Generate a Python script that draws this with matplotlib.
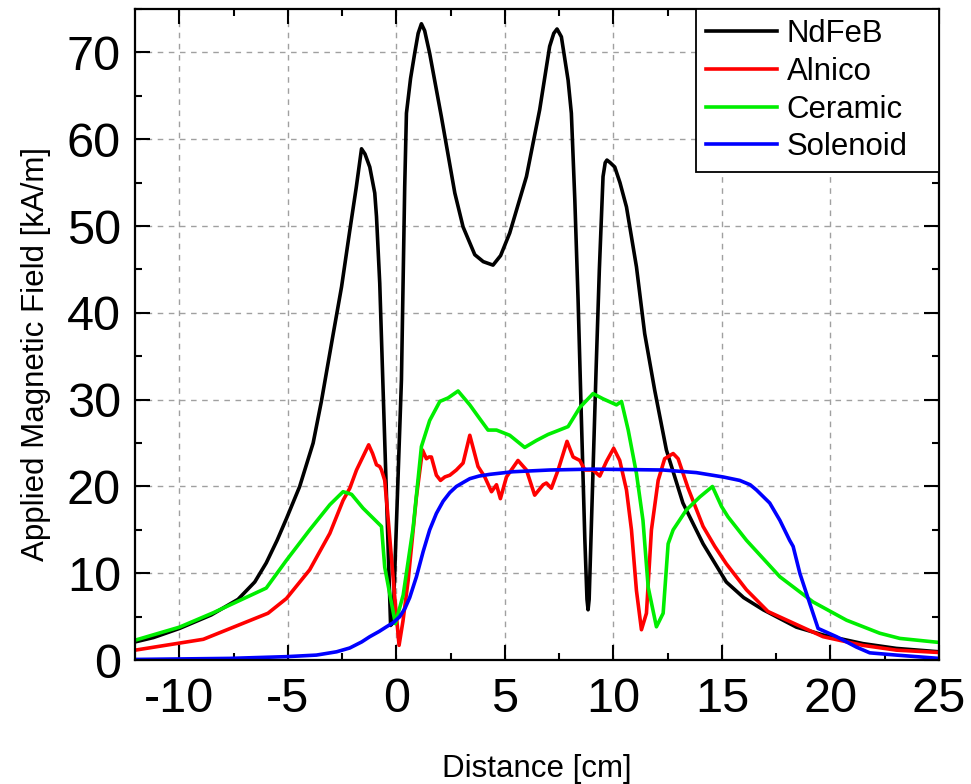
import matplotlib
matplotlib.use("Agg")
import matplotlib.pyplot as plt
from matplotlib.ticker import MultipleLocator

plt.rcParams['font.family'] = ['Liberation Sans', 'DejaVu Sans']
plt.rcParams['axes.unicode_minus'] = False

# NdFeB
x_ndfeb = [-12.04, -11.2, -10.0, -8.54, -7.3, -6.53, -6.0, -5.5, -5.07, -4.46, -3.84, -3.46,
           -2.92, -2.53, -2.15, -1.85, -1.61, -1.45, -1.23, -1.0, -0.92, -0.77, -0.62, -0.27,
           -0.16, 0.23, 0.38, 0.46, 0.65, 0.84, 1.0, 1.15, 1.3, 1.53, 2.07, 2.69, 3.07, 3.61,
           4.0, 4.45, 4.8, 5.22, 5.99, 6.6, 7.06, 7.25, 7.4, 7.6, 7.91, 8.06, 8.22, 8.37,
           8.52, 8.68, 8.78, 8.83, 8.88, 9.0, 9.2, 9.35, 9.52, 9.62, 9.7, 9.85, 10.06, 10.3,
           10.6, 11.06, 11.44, 11.9, 12.44, 13.2, 14.13, 15.2, 16.0, 16.9, 18.43, 19.66,
           21.5, 23.04, 25.0]
y_ndfeb = [2.1, 2.6, 3.65, 5.2, 7.0, 9.0, 11.2, 13.8, 16.3, 20.0, 25.0, 29.8,
           37.5, 43.0, 49.5, 54.5, 58.9, 58.3, 56.8, 53.8, 51.1, 43.4, 31.5, 4.0,
           4.3, 32.3, 54.5, 63.0, 67.0, 69.9, 72.2, 73.3, 72.5, 69.9, 62.6, 53.8, 49.9, 46.7,
           45.9, 45.5, 46.6, 49.2, 55.7, 63.4, 70.7, 72.2, 72.7, 71.8, 66.8, 63.0, 53.0, 41.5,
           28.0, 14.0, 7.0, 5.8, 7.0, 17.0, 33.5, 45.0, 55.7, 57.3, 57.6, 57.3, 56.8, 55.0,
           52.2, 45.3, 37.6, 31.1, 24.2, 18.1, 13.4, 9.0, 7.2, 5.8, 3.8, 2.9,
           1.9, 1.35, 0.96]

# Alnico
x_alnico = [-12.04, -8.9, -5.92, -5.07, -4.0, -3.07, -2.46, -2.15, -1.84, -1.28, -1.1, -0.92,
            -0.77, -0.69, -0.54, -0.39, -0.08, 0.12, 0.3, 0.54, 0.92, 1.2, 1.38, 1.5, 1.61,
            1.84, 2.03, 2.23, 2.46, 2.76, 3.07, 3.38, 3.76, 4.07, 4.38, 4.61, 4.79, 5.07, 5.6,
            5.99, 6.37, 6.76, 6.91, 7.14, 7.45, 7.86, 8.14, 8.45, 8.68, 9.06, 9.37, 9.68,
            10.01, 10.29, 10.6, 10.83, 11.06, 11.29, 11.52, 11.75, 12.06, 12.36, 12.75, 12.98,
            13.44, 14.13, 14.67, 15.2, 16.13, 17.12, 17.82, 19.66, 21.5, 23.04, 25.0]
y_alnico = [1.15, 2.4, 5.4, 7.1, 10.4, 14.6, 18.4, 19.8, 21.9, 24.8, 23.8, 22.5,
            22.3, 21.9, 20.7, 16.5, 7.3, 1.7, 4.5, 9.2, 18.8, 24.2, 23.2, 23.4, 23.4,
            21.3, 20.7, 21.1, 21.3, 21.9, 22.7, 25.9, 22.3, 21.1, 19.4, 20.2, 18.6, 21.1, 23.0,
            21.9, 19.0, 20.2, 20.4, 19.8, 21.9, 25.2, 23.4, 23.0, 21.9, 21.9, 21.2, 22.9,
            24.4, 23.0, 19.6, 15.0, 8.0, 3.5, 5.4, 15.0, 20.7, 23.2, 23.8, 23.2,
            19.8, 15.4, 13.1, 11.1, 8.1, 5.6, 4.8, 2.7, 1.7, 1.15, 0.88]

# Ceramic
x_ceramic = [-12.04, -10.0, -8.45, -6.0, -5.07, -4.0, -3.07, -2.46, -2.07, -1.54, -0.69, -0.54,
             -0.05, 0.31, 0.77, 1.15, 1.53, 2.0, 2.38, 2.84, 3.38, 3.84, 4.22, 4.61, 5.22, 5.91,
             6.45, 6.99, 7.3, 7.91, 8.45, 9.06, 9.52, 10.14, 10.37, 10.68, 11.06, 11.36, 11.6,
             11.98, 12.29, 12.52, 12.75, 13.36, 13.98, 14.56, 14.98, 15.28, 16.13, 17.67, 19.2,
             20.74, 22.27, 23.2, 25.0]
y_ceramic = [2.3, 3.8, 5.45, 8.3, 11.5, 15.0, 17.9, 19.4, 19.1, 17.5, 15.4, 10.7,
             4.2, 7.5, 15.3, 24.6, 27.6, 29.8, 30.2, 31.0, 29.4, 27.8, 26.5, 26.5, 25.9, 24.5,
             25.3, 26.0, 26.3, 26.9, 29.1, 30.7, 30.1, 29.4, 29.8, 26.5, 21.5, 16.1, 8.4,
             3.84, 5.4, 13.4, 15.0, 17.3, 18.8, 20.0, 17.7, 16.5, 13.8, 9.6, 6.7,
             4.6, 3.1, 2.5, 2.04]

# Solenoid
x_solenoid = [-12.04, -7.68, -5.07, -3.69, -2.76, -2.15, -1.6, -1.23, -0.8, -0.46, -0.16, 0.15,
              0.4, 0.61, 0.92, 1.23, 1.53, 1.84, 2.15, 2.46, 2.76, 3.1, 3.38, 3.8, 4.3, 5.37,
              7.06, 9.0, 12.29, 13.82, 15.05, 15.82, 16.3, 16.59, 17.2, 17.67, 18.12, 18.28,
              18.59, 19.05, 19.43, 20.28, 21.2, 21.81, 23.04, 25.0]
y_solenoid = [0.08, 0.2, 0.4, 0.58, 0.96, 1.4, 2.1, 2.7, 3.3, 3.84, 4.3, 5.0,
              6.0, 7.2, 9.6, 12.5, 15.0, 16.9, 18.3, 19.3, 20.0, 20.5, 20.9, 21.2, 21.4, 21.7,
              21.9, 22.0, 21.9, 21.6, 21.1, 20.7, 20.2, 19.6, 18.1, 16.1, 13.8, 13.1,
              10.0, 6.5, 3.65, 2.7, 1.5, 0.84, 0.58, 0.2]

fig = plt.figure(figsize=(9.71, 7.84), dpi=100)
ax = fig.add_axes([0.139, 0.158, 0.828, 0.8305])

lw = 2.6
ax.plot(x_ndfeb, y_ndfeb, color='black', lw=lw, label='NdFeB')
ax.plot(x_alnico, y_alnico, color='#ff0000', lw=lw, label='Alnico')
ax.plot(x_ceramic, y_ceramic, color='#00ee00', lw=lw, label='Ceramic')
ax.plot(x_solenoid, y_solenoid, color='#0000ff', lw=lw, label='Solenoid')

ax.set_xlim(-12.05, 25)
ax.set_ylim(0, 75)
ax.xaxis.set_major_locator(MultipleLocator(5))
ax.xaxis.set_minor_locator(MultipleLocator(2.5))
ax.yaxis.set_major_locator(MultipleLocator(10))
ax.yaxis.set_minor_locator(MultipleLocator(5))

ax.grid(True, which='major', color='#a0a0a0', linestyle=(0, (4, 4)), lw=1.0)
ax.set_axisbelow(True)

for s in ax.spines.values():
    s.set_linewidth(1.6)

ax.tick_params(which='both', direction='in', top=True, right=True, width=1.5)
ax.tick_params(which='major', length=11, labelsize=35)
ax.tick_params(which='minor', length=5)
ax.tick_params(axis='x', which='major', pad=12)
ax.tick_params(axis='y', which='major', pad=10)

leg = ax.legend(loc='upper left', bbox_to_anchor=(0.6974, 0.0, 0.3026, 1.0), mode='expand',
                borderaxespad=0.0, fontsize=22.4, handlelength=2.3, handletextpad=0.3,
                labelspacing=0.25, borderpad=0.32, fancybox=False, framealpha=1.0,
                edgecolor='black')
leg.get_frame().set_linewidth(1.3)

fig.text(36 / 971, 1 - 354 / 784, 'Applied Magnetic Field [kA/m]', rotation=90,
         ha='center', va='center', fontsize=22.5)
fig.text(537 / 971, 1 - 769 / 784, 'Distance [cm]', ha='center', va='center', fontsize=22.5)

fig.savefig('out.png', dpi=100)
